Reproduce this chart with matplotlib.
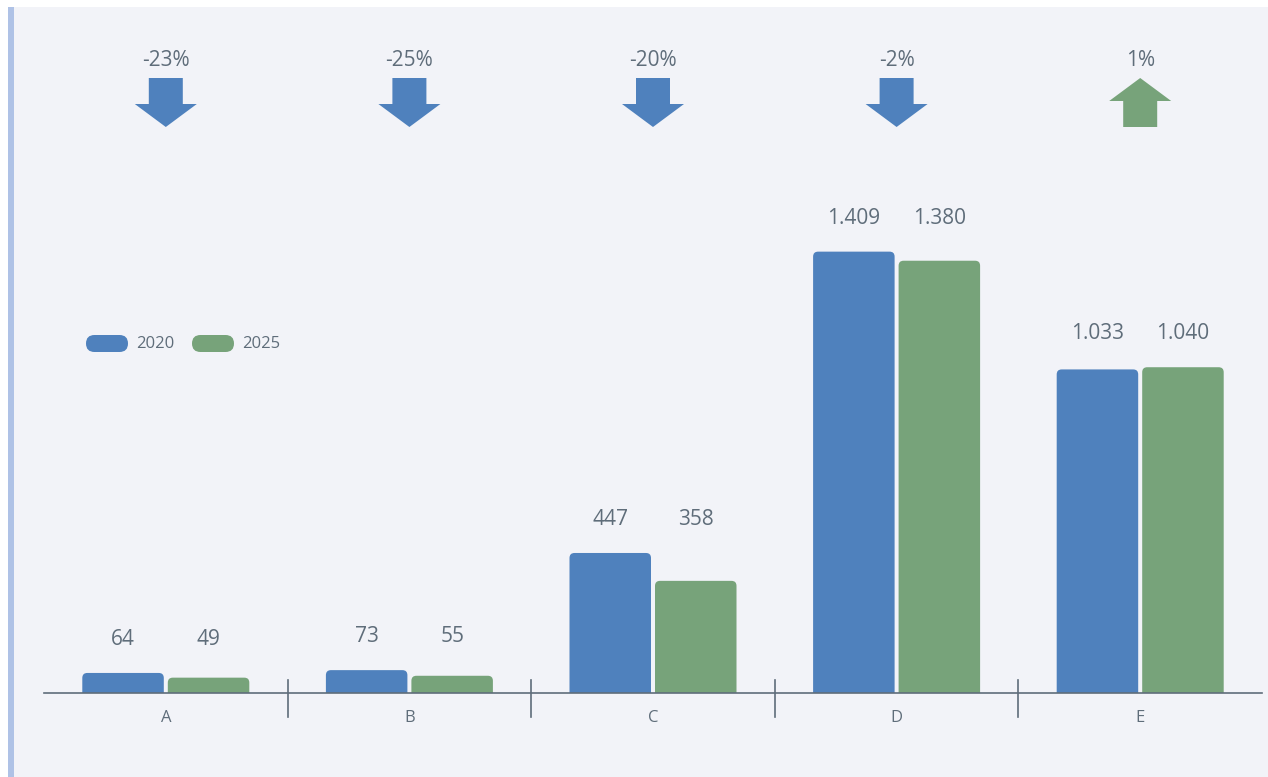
import matplotlib.pyplot as plt
import matplotlib.transforms as mtransforms
from matplotlib.patches import FancyBboxPatch, Polygon, Rectangle

plt.rcParams['font.family'] = ['Open Sans', 'DejaVu Sans']

# Daten
categories = ['A', 'B', 'C', 'D', 'E']
values_2020 = [64, 73, 447, 1409, 1033]
values_2025 = [49, 55, 358, 1380, 1040]
series_names = ['2020', '2025']

blue = '#4F81BD'
green = '#77A37A'
text_col = '#5F6D7A'
bg = '#F2F3F8'

W, H = 1268, 777
fig = plt.figure(figsize=(W / 100, H / 100), dpi=100, facecolor='white')

# Hintergrund-Panel und linker Balken
fig.patches.append(Rectangle((8 / W, 0), 1 - 8 / W, (H - 7) / H, transform=fig.transFigure,
                             facecolor=bg, edgecolor='none', zorder=-10))
fig.patches.append(Rectangle((8 / W, 0), 6 / W, (H - 7) / H, transform=fig.transFigure,
                             facecolor='#AFC2E6', edgecolor='none', zorder=-9))

ax_l, ax_r, ax_base, ax_top = 44, 1262, 693, 7
ax = fig.add_axes([ax_l / W, (H - ax_base) / H, (ax_r - ax_l) / W, (ax_base - ax_top) / H])
ax.set_facecolor('none')

n = len(categories)
ymax = 2190
ax.set_xlim(-0.5, n - 0.5)
ax.set_ylim(0, ymax)
px_x = (ax_r - ax_l) / n           # Pixel pro Kategorie
px_y = (ax_base - ax_top) / ymax   # Pixel pro Einheit
ah = ax_base - ax_top

bar_w = 81.5 / px_x
gap = 4 / px_x
rx = 5 / px_x
ry = 5 / px_y

for i in range(n):
    top = max(values_2020[i], values_2025[i])
    for j, (vals, col) in enumerate([(values_2020, blue), (values_2025, green)]):
        xc = i + (j - 0.5) * (bar_w + gap)
        v = vals[i]
        # abgerundete Ecken oben, unten abgeschnitten
        p = FancyBboxPatch((xc - bar_w / 2, -ry * 2), bar_w, v + ry * 2,
                           boxstyle=f'round,pad=0,rounding_size={rx}',
                           mutation_aspect=ry / rx, facecolor=col, edgecolor='none')
        ax.add_patch(p)
        ax.annotate(f'{v:,}'.replace(',', '.'), (xc, top), xytext=(0, 24), textcoords='offset points',
                    ha='center', va='center', fontsize=15, color=text_col)

# Achse
for s in ['top', 'right', 'left']:
    ax.spines[s].set_visible(False)
ax.spines['bottom'].set_color(text_col)
ax.spines['bottom'].set_linewidth(1.2)
ax.set_xticks([])
ax.set_yticks([])

trans = mtransforms.blended_transform_factory(ax.transData, ax.transAxes)
for k in range(n - 1):
    ax.plot([k + 0.5, k + 0.5], [13 / ah, -24 / ah], transform=trans, color=text_col,
            lw=1.2, clip_on=False)
for i, c in enumerate(categories):
    ax.text(i, -25 / ah, c, transform=trans, ha='center', va='center', fontsize=12,
            color=text_col)

# Pfeile mit Veränderung
sw = 17 / px_x
hw = 31 / px_x
for i in range(n):
    ch = (values_2025[i] - values_2020[i]) / values_2020[i] * 100
    if ch < 0:
        y_top, y_head, y_tip = (ax_base - 78) / ah, (ax_base - 104) / ah, (ax_base - 127) / ah
        pts = [(i - sw, y_top), (i + sw, y_top), (i + sw, y_head), (i + hw, y_head),
               (i, y_tip), (i - hw, y_head), (i - sw, y_head)]
        col = blue
    else:
        y_tip, y_head, y_bot = (ax_base - 78) / ah, (ax_base - 101) / ah, (ax_base - 127) / ah
        pts = [(i - sw, y_bot), (i + sw, y_bot), (i + sw, y_head), (i + hw, y_head),
               (i, y_tip), (i - hw, y_head), (i - sw, y_head)]
        col = green
    ax.add_patch(Polygon(pts, closed=True, transform=trans, facecolor=col, edgecolor='none',
                         clip_on=False))
    ax.text(i, (ax_base - 60) / ah, f'{round(ch):.0f}%', transform=trans, ha='center',
            va='center', fontsize=15, color=text_col)

# Legende
lg = fig.add_axes([0, 0, 1, 1])
lg.set_xlim(0, W)
lg.set_ylim(H, 0)
lg.axis('off')
lg.patch.set_alpha(0)
for (x0, name, col) in [(86, series_names[0], blue), (192, series_names[1], green)]:
    lg.add_patch(FancyBboxPatch((x0, 335), 42, 17, boxstyle='round,pad=0,rounding_size=8.5',
                                facecolor=col, edgecolor='none'))
    lg.text(x0 + 50, 343.5, name, ha='left', va='center', fontsize=12, color=text_col)

plt.savefig('out.png', dpi=100, facecolor=fig.get_facecolor())
